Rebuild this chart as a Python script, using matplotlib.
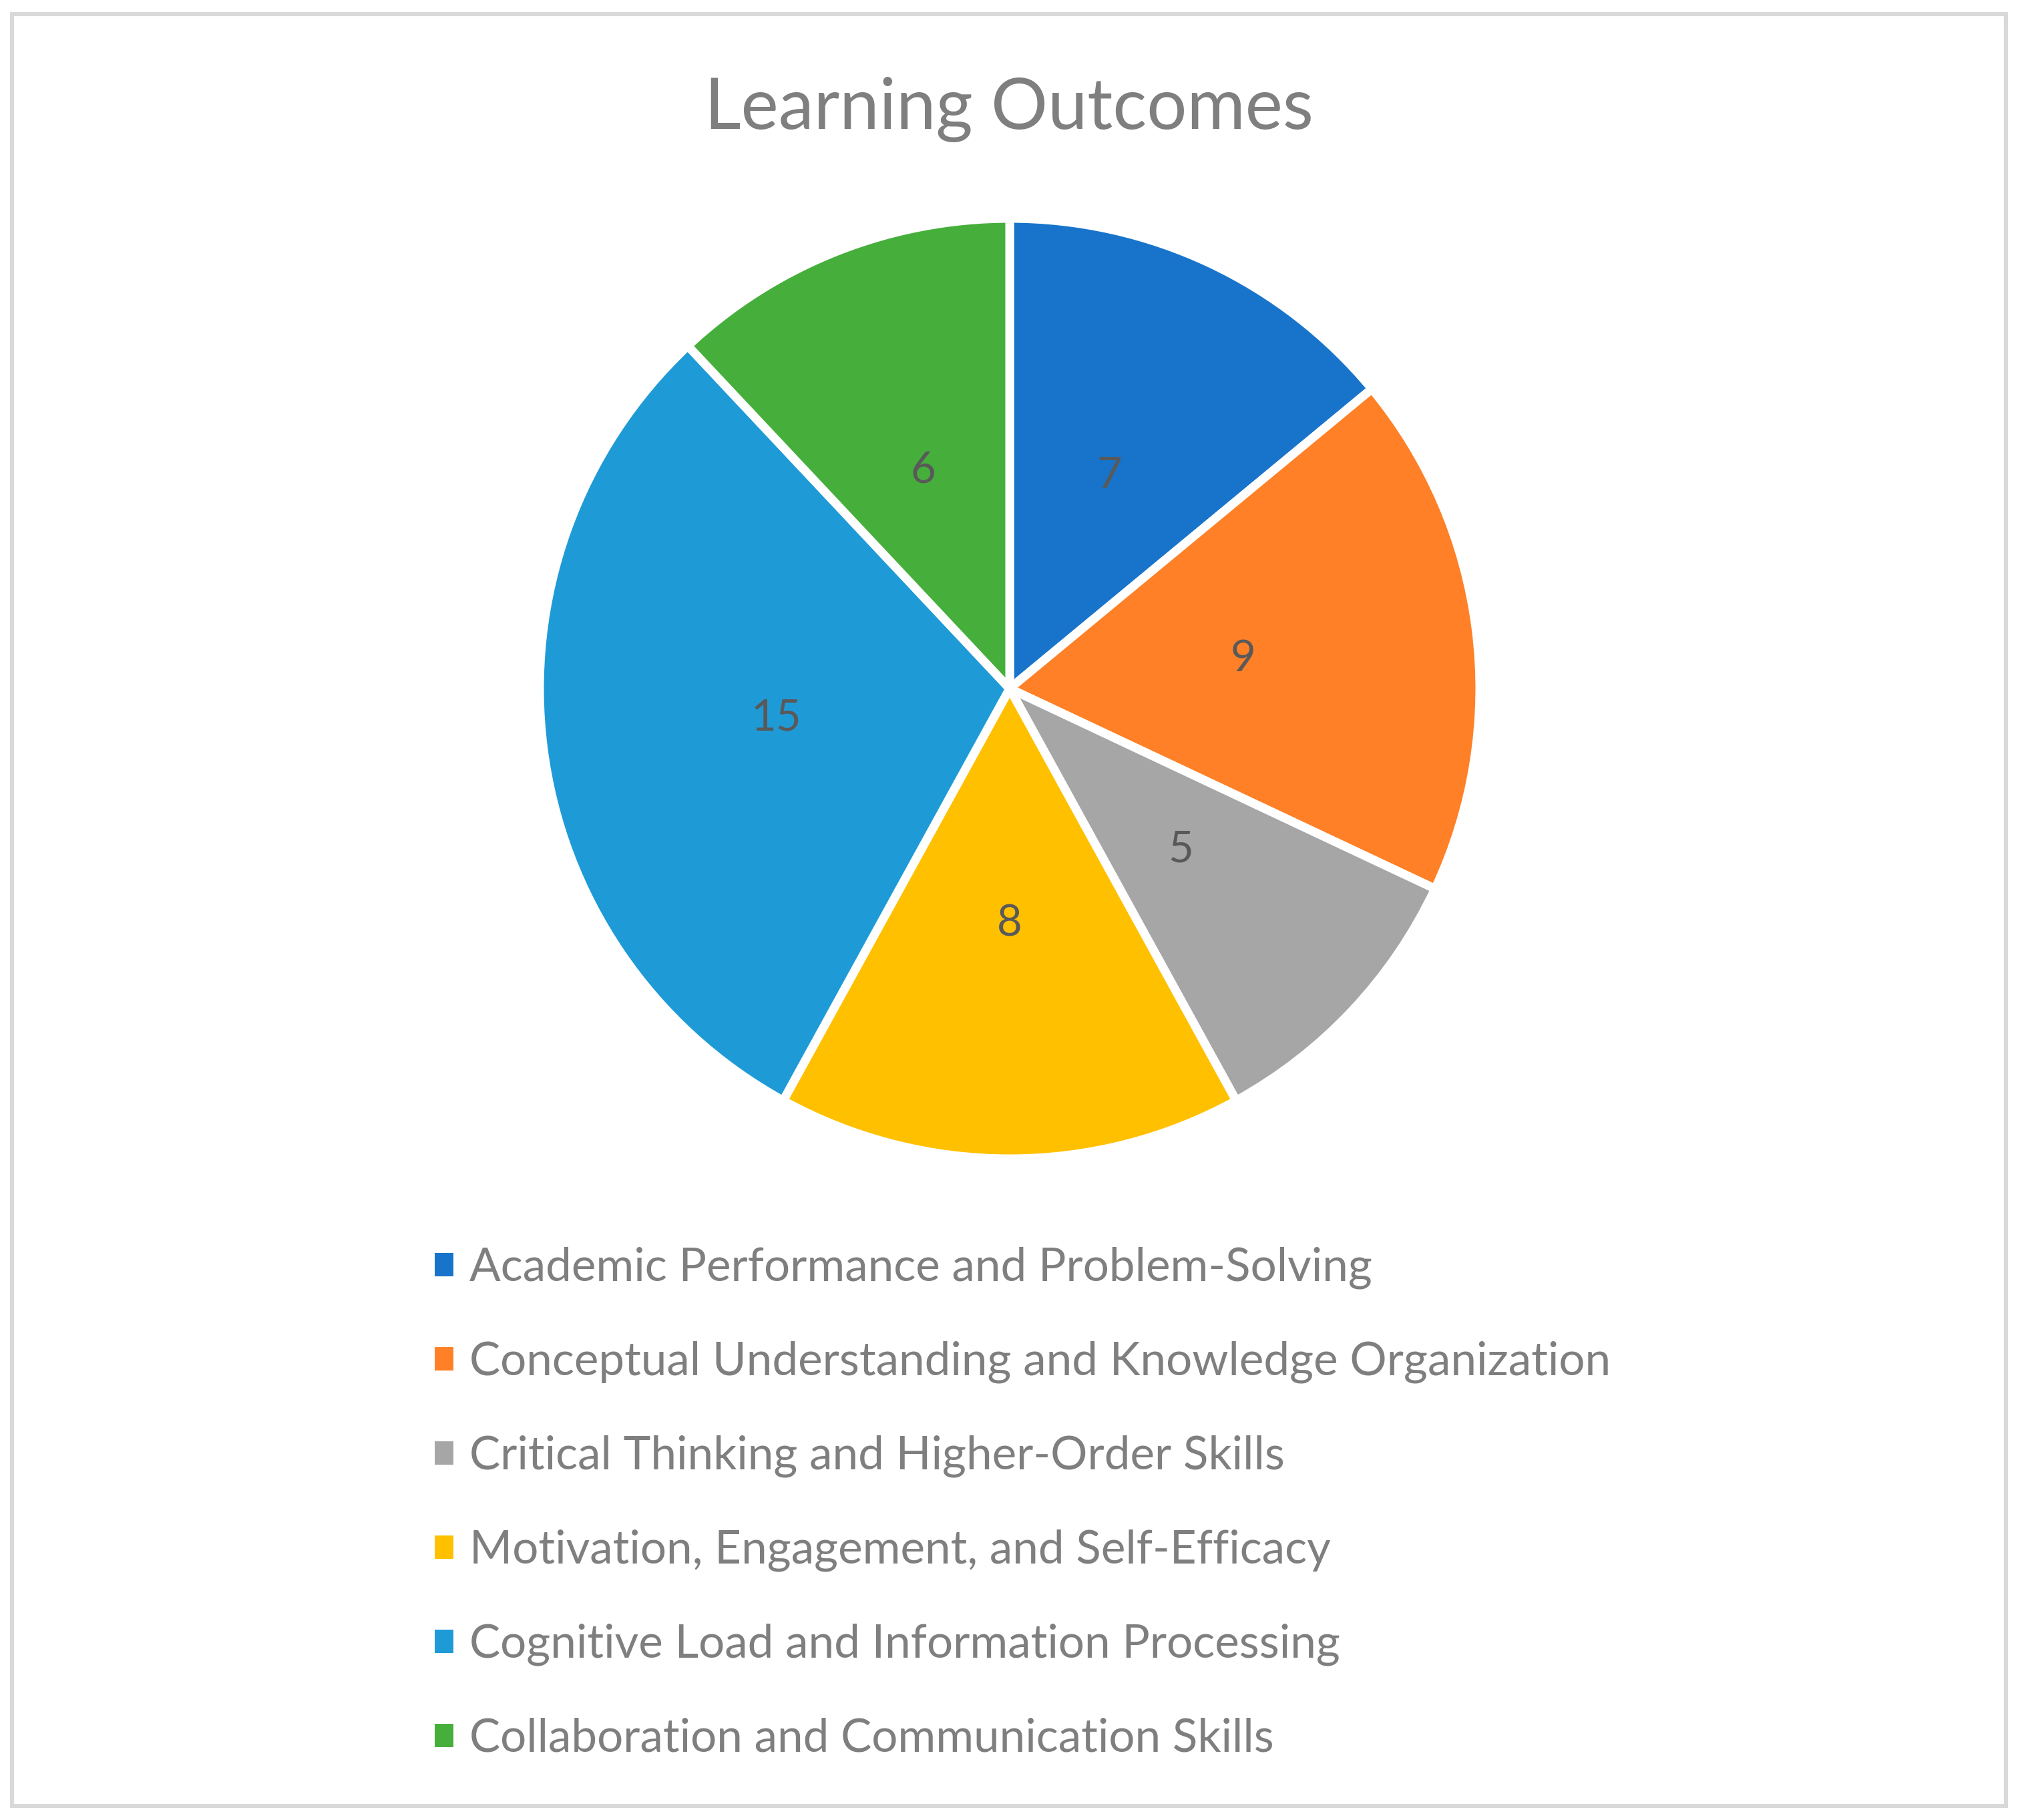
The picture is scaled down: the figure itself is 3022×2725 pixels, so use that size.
import matplotlib
matplotlib.use("Agg")
import matplotlib.pyplot as plt
from matplotlib.patches import Patch, Rectangle

categories = [
    "Academic Performance and Problem-Solving",
    "Conceptual Understanding and Knowledge Organization",
    "Critical Thinking and Higher-Order Skills",
    "Motivation, Engagement, and Self-Efficacy",
    "Cognitive Load and Information Processing",
    "Collaboration and Communication Skills",
]
counts = [7, 9, 5, 8, 15, 6]
colors = ["#1874CA", "#FF8026", "#A6A6A6", "#FFC000", "#1E9BD7", "#46AF3C"]
title = "Learning Outcomes"

plt.rcParams['font.family'] = ['Lato', 'DejaVu Sans']

W, H = 3022, 2725
fig = plt.figure(figsize=(W / 100, H / 100), dpi=100)

# outer frame like the spreadsheet chart area
fig.patches.append(Rectangle((18 / W, 21 / H), (W - 36) / W, (H - 42) / H,
                             transform=fig.transFigure, fill=False,
                             edgecolor="#D9D9D9", linewidth=4.5))

cx, cy, r = 1512, 1031, 704
ax = fig.add_axes([(cx - r) / W, (H - cy - r) / H, 2 * r / W, 2 * r / H])
total = sum(counts)
wedges, texts, autotexts = ax.pie(
    counts, colors=colors, startangle=90, counterclock=False, radius=1,
    autopct=lambda p: f"{round(p * total / 100)}", pctdistance=0.5,
    wedgeprops=dict(edgecolor="white", linewidth=9.4),
    textprops=dict(color="#595959", fontsize=47))
ax.set_xlim(-1, 1)
ax.set_ylim(-1, 1)
ax.set_aspect("equal")
ax.axis("off")

fig.text(0.5, 1 - 193 / H, title, ha="center", va="baseline",
         fontsize=76.5, color="#7F7F7F")

handles = [Patch(facecolor=c) for c in colors]
leg = fig.legend(handles, categories, loc="upper left",
                 bbox_to_anchor=(651 / W, 1 - 1867 / H),
                 frameon=False, fontsize=49.8, labelcolor="#7F7F7F",
                 handlelength=0.4, handleheight=0.4, handletextpad=0.35,
                 labelspacing=1.12, borderpad=0, borderaxespad=0)

fig.savefig("out.png", dpi=100, facecolor="white")
